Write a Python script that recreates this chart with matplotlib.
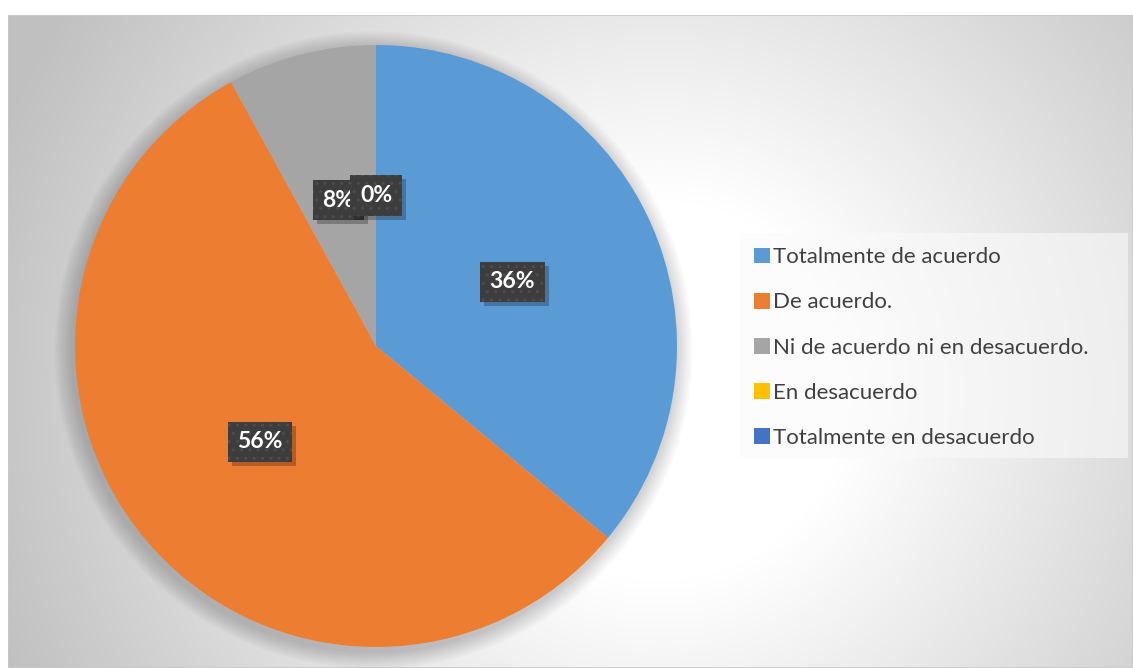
import numpy as np
import matplotlib
matplotlib.use('Agg')
from matplotlib import pyplot as plt
from matplotlib.patches import Circle, Rectangle

plt.rcParams['font.family'] = ['Lato', 'DejaVu Sans']

# survey answers (share of respondents)
categorias = ['Totalmente de acuerdo', 'De acuerdo.',
              'Ni de acuerdo ni en desacuerdo.', 'En desacuerdo',
              'Totalmente en desacuerdo']
valores = [36, 56, 8, 0, 0]
colores = ['#5B9BD5', '#ED7D31', '#A5A5A5', '#FFC000', '#4472C4']

W, H = 1133, 668
fig = plt.figure(figsize=(W/100., H/100.), dpi=100)
fig.patch.set_facecolor('white')

# chart area with radial grey gradient
bg = fig.add_axes([8./W, 0, (W-8.)/W, (H-15.)/H])
yy, xx = np.mgrid[15:H, 8:W]
d = np.hypot(xx - 660, yy - 390)
g = np.clip((d - 190) / 520., 0, 1)
shade = 1.0 - g * (255 - 192) / 255.
bg.imshow(np.dstack([shade]*3), aspect='auto', extent=(0, 1, 0, 1),
          interpolation='bilinear')
bg.add_patch(Rectangle((0, 0), 1, 1, transform=bg.transAxes, fill=False,
                       ec='#c8c8c8', lw=1.2))
bg.set_xlim(0, 1)
bg.set_ylim(0, 1)
bg.axis('off')

# pie
ax = fig.add_axes([75./W, (H-647.)/H, 602./W, 602./H])
ax.axis('off')

# soft shadow around the pie
for i in range(12):
    ax.add_patch(Circle((-0.008, -0.014), 1.0 + 0.005*(i+1), fc='#000000',
                        alpha=0.014, ec='none', clip_on=False, zorder=0))

wedges, textos, pcts = ax.pie(valores, colors=colores, startangle=90,
                              counterclock=False, radius=1,
                              autopct='%1.0f%%', pctdistance=0.5,
                              wedgeprops=dict(linewidth=0))
ax.set_xlim(-1, 1)
ax.set_ylim(-1, 1)

caja = dict(boxstyle='square,pad=0.42', fc='#3d3d3d', ec='#4d4d4d', lw=0,
            hatch='..')
for k, t in enumerate(pcts):
    if k == 4:
        # same spot as the other 0% label
        t.set_visible(False)
        continue
    t.set_color('white')
    t.set_fontsize(16.5)
    t.set_fontweight('bold')
    t.set_bbox(caja)
    t.set_zorder(6 + 2*k)

# drop shadows behind the label boxes
fig.canvas.draw()
inv = fig.transFigure.inverted()
for k, t in enumerate(pcts[:4]):
    bb = t.get_bbox_patch().get_window_extent()
    (x0, y0), (x1, y1) = inv.transform([(bb.x0 + 4, bb.y0 - 4),
                                        (bb.x1 + 4, bb.y1 - 4)])
    ax.add_patch(Rectangle((x0, y0), x1 - x0, y1 - y0,
                           transform=fig.transFigure, fc='black', alpha=0.25,
                           ec='none', clip_on=False, zorder=5 + 2*k))

# legend
fig.patches.append(Rectangle((740./W, 1 - 458./H), 388./W, 225./H,
                             transform=fig.transFigure, fc='#fafafa',
                             alpha=0.6, ec='none', zorder=1))
leg = fig.legend(wedges, categorias, loc='center left',
                 bbox_to_anchor=(754./W, 1 - 347.5/H), fontsize=16,
                 frameon=False, handlelength=0.72, handleheight=0.72,
                 handletextpad=0.15, labelspacing=1.13,
                 borderpad=0, borderaxespad=0)
for t in leg.get_texts():
    t.set_color('#404040')

fig.savefig('out.png', dpi=100)
